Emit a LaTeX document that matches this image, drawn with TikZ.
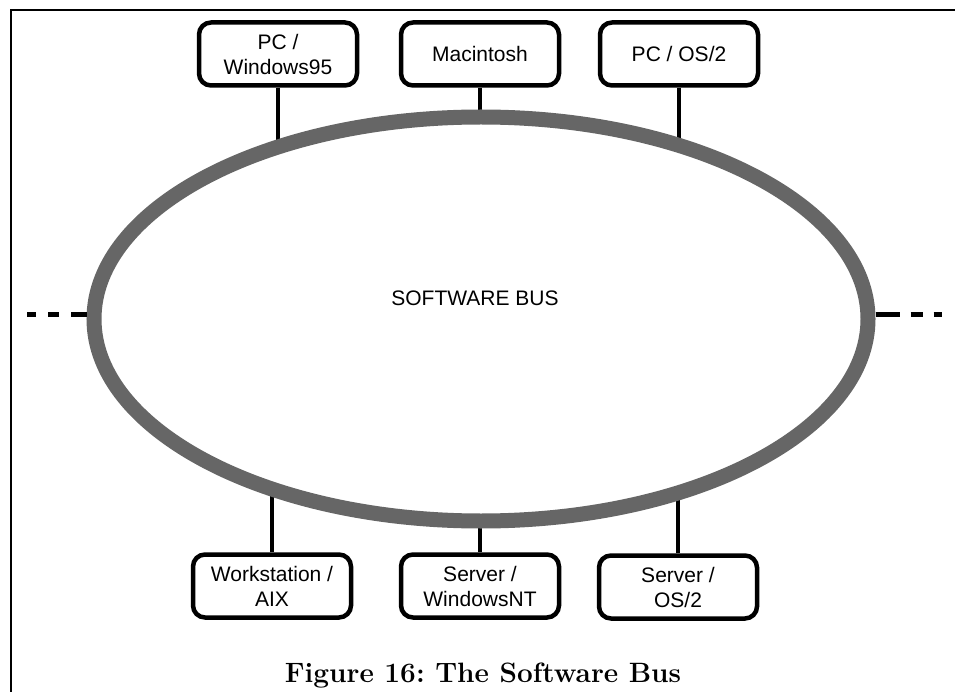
\documentclass[tikz,border=0pt]{standalone}
\usepackage{fontspec}
\newfontfamily\arial{Liberation Sans}
\usepackage{xcolor}
\usepackage{tikz}
\usetikzlibrary{shapes.geometric}
\usetikzlibrary{backgrounds}

\definecolor{busgray}{RGB}{102,102,102}

\begin{document}
\begin{tikzpicture}[x=1pt,y=-1pt,
  host/.style={draw,line width=4.5pt,rounded corners=12pt,minimum width=158pt,minimum height=63pt,inner sep=0pt,align=center,font=\arial\fontsize{21}{25}\selectfont},
  link/.style={line width=4.5pt},
  bus/.style={ellipse,draw=busgray,fill=white,line width=15pt,minimum width=774pt,minimum height=404pt,inner sep=0pt}]
\useasboundingbox (0,0) rectangle (955,692);

% frame (top and left only)
\draw [line width=2.5pt] (955,10) -- (11,10) -- (11,692);

% the bus
\node [bus] (bus) at (481,319) {};
\node [font=\arial\fontsize{21}{25}\selectfont] (buslabel) at (475,298) {SOFTWARE BUS};

% hosts on top
\node [host] (pcw) at (278,54) {PC /\\Windows95};
\node [host] (mac) at (480,54) {Macintosh};
\node [host] (pcos) at (679,54) {PC / OS/2};

% hosts below
\node [host] (aix) at (272,586) {Workstation /\\AIX};
\node [host] (wnt) at (480,586) {Server /\\WindowsNT};
\node [host] (sos) at (678,587) {Server /\\OS/2};

% open ends left and right
\coordinate (lend) at (27,315);
\coordinate (rend) at (942,315);

\begin{scope}[on background layer]
\draw [link] (pcw.south) -- (pcw.south |- bus.center);
\draw [link] (mac.south) -- (mac.south |- bus.center);
\draw [link] (pcos.south) -- (pcos.south |- bus.center);
\draw [link] (aix.north) -- (aix.north |- bus.center);
\draw [link] (wnt.north) -- (wnt.north |- bus.center);
\draw [link] (sos.north) -- (sos.north |- bus.center);
\end{scope}

\draw [line width=5pt,dash pattern=on 16pt off 12pt on 11pt off 12pt on 9pt off 20pt] (bus.west |- lend) -- (lend);
\draw [line width=5pt,dash pattern=on 24pt off 11pt on 12pt off 11pt on 8pt off 20pt] (bus.east |- rend) -- (rend);

% caption
\node [anchor=base,font=\bfseries\fontsize{28}{32}\selectfont] (caption) at (483,682) {\frenchspacing Figure 16: The Software Bus};
\end{tikzpicture}
\end{document}
